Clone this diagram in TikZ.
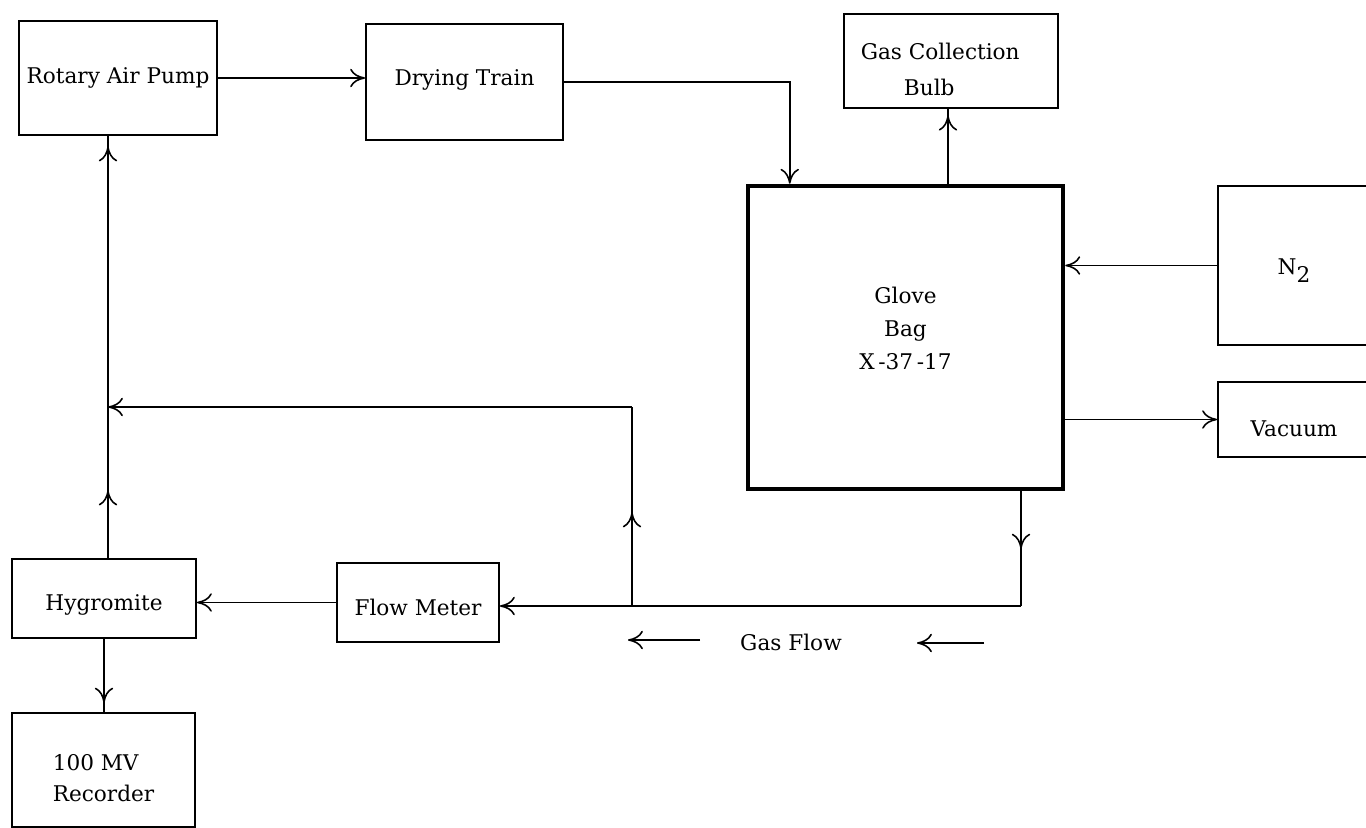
\documentclass[tikz,border=0pt]{standalone}
\usepackage{fontspec}
\setmainfont{DejaVu Serif}
\usetikzlibrary{arrows.meta,calc,decorations.markings}
\tikzstyle{block} = [rectangle, draw=black, line width=1.1pt, inner sep=2pt, align=center, font=\fontsize{12.3}{19}\selectfont]
\tikzstyle{chamber} = [block, line width=2.6pt]
\tikzstyle{flowtext} = [inner sep=2pt, font=\fontsize{12.3}{19}\selectfont]
\tikzstyle{pipe} = [line width=0.9pt]
\tikzstyle{arrow} = [pipe, ->]
\tikzset{flowmark/.style={postaction={decorate, decoration={markings, mark=at position #1 with {\arrow{>}}}}}}

\begin{document}
\begin{tikzpicture}[x=0.02cm, y=-0.02cm, >={To[length=8.5pt,width=10.5pt]}]
  \useasboundingbox (0,0) rectangle (1366,828);
  % units
  \node (pump)[block, minimum width=3.96cm, minimum height=2.28cm] at (118,78) {Rotary Air Pump};
  \node (dry)[block, minimum width=3.94cm, minimum height=2.32cm, text depth=5pt] at (464.5,82) {Drying Train};
  \node (bulb)[block, align=left, minimum width=4.28cm, minimum height=1.88cm, text height=39pt] at (951,61) {Gas Collection\hspace*{1em}\\[1.5pt]\hspace*{2em}Bulb};
  \node (glove)[chamber, minimum width=6.3cm, minimum height=6.06cm, text depth=10.5pt] at (905.5,337.5) {Glove\\Bag\\X\,-37\,-17};
  \node (nitro)[block, minimum width=3.04cm, minimum height=3.18cm, text height=15pt] at (1294,265.5) {N\raisebox{-0.7ex}{2}};
  \node (vac)[block, minimum width=3.04cm, minimum height=1.5cm, text height=19pt] at (1294,419.5) {Vacuum};
  \node (hygro)[block, minimum width=3.68cm, minimum height=1.58cm, text height=16.4pt] at (104,598.5) {Hygromite};
  \node (flow)[block, minimum width=3.24cm, minimum height=1.58cm, text height=15pt] at (418,602.5) {Flow Meter};
  \node (rec)[block, align=left, minimum width=3.66cm, minimum height=2.28cm, text height=36pt] at (103.5,770) {100 MV\\[-1.4pt]Recorder};
  \node (gasflow)[flowtext] at (791,642) {Gas Flow};
  % junctions
  \coordinate (outlet) at (948,186);
  \coordinate (turn) at (1021,606);
  \coordinate (split) at (632,606);
  \coordinate (bend) at (632,407);
  \coordinate (merge) at (108,407);
  \coordinate (lefttail) at (700,640);
  \coordinate (lefthead) at (628,640);
  \coordinate (righttail) at (984,643);
  \coordinate (righthead) at (917,643);
  % lines
  \draw [arrow] (pump.east) -- (pump.east -| dry.west);
  \draw [arrow] (dry.east) -| ($(glove.north west)+(44,0)$);
  \draw [pipe, flowmark=0.91] (outlet |- glove.north) -- (outlet |- bulb.south);
  \draw [arrow] (nitro.west) -- (nitro.west -| glove.east);
  \draw [arrow] (vac.west -| glove.east) -- (vac.west);
  \draw [pipe, flowmark=0.5] (glove.south -| turn) -- (turn);
  \draw [arrow] (turn) -- (turn -| flow.east);
  \draw [pipe, flowmark=0.47] (split) -- (bend);
  \draw [arrow] (bend) -- (merge);
  \draw [pipe, flowmark=0.16, flowmark=0.975] (hygro.north -| merge) -- (pump.south -| merge);
  \draw [arrow] (flow.west) -- (flow.west -| hygro.east);
  \draw [pipe, flowmark=0.87] (hygro.south) -- (rec.north -| hygro.south);
  \draw [arrow] (lefttail) -- (lefthead);
  \draw [arrow] (righttail) -- (righthead);
\end{tikzpicture}
\end{document}
